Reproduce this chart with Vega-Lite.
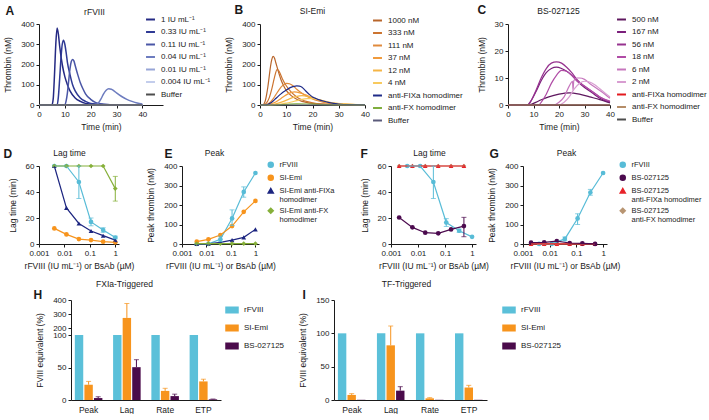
{
"$schema": "https://vega.github.io/schema/vega-lite/v6.json",
"background": "white",
"padding": {"left": 3, "top": 3, "right": 2, "bottom": 0},
"config": {
  "font": "Liberation Sans",
  "view": {"stroke": null},
  "axis": {"domainColor": "#1a1a1a", "tickColor": "#1a1a1a", "labelColor": "#1a1a1a", "titleColor": "#1a1a1a", "labelFontSize": 8, "titleFontSize": 8.5, "titleFontWeight": "normal", "tickSize": 3, "grid": false, "labelPadding": 2, "titlePadding": 6, "labelFlush": false, "labelOverlap": false},
  "legend": {"labelFontSize": 8, "labelColor": "#1a1a1a", "padding": 0, "rowPadding": 2.5, "labelOffset": 5},
  "concat": {"spacing": 14}
},
"datasets": {
"tgA": [
{"s":"1 IU mL⁻¹","t":0,"v":0},{"s":"1 IU mL⁻¹","t":5,"v":0},{"s":"1 IU mL⁻¹","t":5.5,"v":30},{"s":"1 IU mL⁻¹","t":6,"v":150},{"s":"1 IU mL⁻¹","t":6.5,"v":300},{"s":"1 IU mL⁻¹","t":7,"v":380},{"s":"1 IU mL⁻¹","t":7.5,"v":350},{"s":"1 IU mL⁻¹","t":8,"v":290},{"s":"1 IU mL⁻¹","t":9,"v":200},{"s":"1 IU mL⁻¹","t":10,"v":140},{"s":"1 IU mL⁻¹","t":11,"v":100},{"s":"1 IU mL⁻¹","t":12,"v":70},{"s":"1 IU mL⁻¹","t":14,"v":35},{"s":"1 IU mL⁻¹","t":16,"v":18},{"s":"1 IU mL⁻¹","t":18,"v":8},{"s":"1 IU mL⁻¹","t":20,"v":4},{"s":"1 IU mL⁻¹","t":25,"v":0},{"s":"1 IU mL⁻¹","t":40,"v":0},
{"s":"0.33 IU mL⁻¹","t":0,"v":0},{"s":"0.33 IU mL⁻¹","t":7,"v":0},{"s":"0.33 IU mL⁻¹","t":7.5,"v":40},{"s":"0.33 IU mL⁻¹","t":8,"v":130},{"s":"0.33 IU mL⁻¹","t":8.5,"v":230},{"s":"0.33 IU mL⁻¹","t":9,"v":300},{"s":"0.33 IU mL⁻¹","t":9.5,"v":320},{"s":"0.33 IU mL⁻¹","t":10,"v":300},{"s":"0.33 IU mL⁻¹","t":10.5,"v":260},{"s":"0.33 IU mL⁻¹","t":11,"v":210},{"s":"0.33 IU mL⁻¹","t":12,"v":150},{"s":"0.33 IU mL⁻¹","t":13,"v":100},{"s":"0.33 IU mL⁻¹","t":14,"v":70},{"s":"0.33 IU mL⁻¹","t":16,"v":35},{"s":"0.33 IU mL⁻¹","t":18,"v":18},{"s":"0.33 IU mL⁻¹","t":20,"v":8},{"s":"0.33 IU mL⁻¹","t":25,"v":2},{"s":"0.33 IU mL⁻¹","t":30,"v":0},{"s":"0.33 IU mL⁻¹","t":40,"v":0},
{"s":"0.11 IU mL⁻¹","t":0,"v":0},{"s":"0.11 IU mL⁻¹","t":10,"v":0},{"s":"0.11 IU mL⁻¹","t":10.5,"v":20},{"s":"0.11 IU mL⁻¹","t":11,"v":60},{"s":"0.11 IU mL⁻¹","t":11.5,"v":120},{"s":"0.11 IU mL⁻¹","t":12,"v":180},{"s":"0.11 IU mL⁻¹","t":12.5,"v":215},{"s":"0.11 IU mL⁻¹","t":13,"v":225},{"s":"0.11 IU mL⁻¹","t":13.5,"v":218},{"s":"0.11 IU mL⁻¹","t":14,"v":195},{"s":"0.11 IU mL⁻¹","t":15,"v":150},{"s":"0.11 IU mL⁻¹","t":16,"v":110},{"s":"0.11 IU mL⁻¹","t":17,"v":80},{"s":"0.11 IU mL⁻¹","t":18,"v":55},{"s":"0.11 IU mL⁻¹","t":20,"v":28},{"s":"0.11 IU mL⁻¹","t":22,"v":12},{"s":"0.11 IU mL⁻¹","t":25,"v":4},{"s":"0.11 IU mL⁻¹","t":30,"v":0},{"s":"0.11 IU mL⁻¹","t":40,"v":0},
{"s":"0.04 IU mL⁻¹","t":0,"v":0},{"s":"0.04 IU mL⁻¹","t":22,"v":0},{"s":"0.04 IU mL⁻¹","t":23,"v":10},{"s":"0.04 IU mL⁻¹","t":24,"v":30},{"s":"0.04 IU mL⁻¹","t":25,"v":55},{"s":"0.04 IU mL⁻¹","t":26,"v":73},{"s":"0.04 IU mL⁻¹","t":27,"v":80},{"s":"0.04 IU mL⁻¹","t":28,"v":78},{"s":"0.04 IU mL⁻¹","t":29,"v":70},{"s":"0.04 IU mL⁻¹","t":30,"v":60},{"s":"0.04 IU mL⁻¹","t":32,"v":42},{"s":"0.04 IU mL⁻¹","t":34,"v":28},{"s":"0.04 IU mL⁻¹","t":36,"v":18},{"s":"0.04 IU mL⁻¹","t":38,"v":10},{"s":"0.04 IU mL⁻¹","t":40,"v":5},
{"s":"0.01 IU mL⁻¹","t":0,"v":0},{"s":"0.01 IU mL⁻¹","t":40,"v":0},
{"s":"0.004 IU mL⁻¹","t":0,"v":0},{"s":"0.004 IU mL⁻¹","t":40,"v":0},
{"s":"Buffer","t":0,"v":0},{"s":"Buffer","t":40,"v":0}
],
"tgB": [
{"s":"1000 nM","t":0,"v":0},{"s":"1000 nM","t":1,"v":0},{"s":"1000 nM","t":1.5,"v":5},{"s":"1000 nM","t":2,"v":20},{"s":"1000 nM","t":2.5,"v":50},{"s":"1000 nM","t":3,"v":90},{"s":"1000 nM","t":3.5,"v":140},{"s":"1000 nM","t":4,"v":190},{"s":"1000 nM","t":4.5,"v":225},{"s":"1000 nM","t":5,"v":240},{"s":"1000 nM","t":5.5,"v":232},{"s":"1000 nM","t":6,"v":210},{"s":"1000 nM","t":7,"v":165},{"s":"1000 nM","t":8,"v":125},{"s":"1000 nM","t":9,"v":95},{"s":"1000 nM","t":10,"v":72},{"s":"1000 nM","t":12,"v":45},{"s":"1000 nM","t":14,"v":28},{"s":"1000 nM","t":16,"v":18},{"s":"1000 nM","t":18,"v":12},{"s":"1000 nM","t":20,"v":8},{"s":"1000 nM","t":24,"v":4},{"s":"1000 nM","t":28,"v":2},{"s":"1000 nM","t":32,"v":1},{"s":"1000 nM","t":40,"v":0},
{"s":"333 nM","t":0,"v":0},{"s":"333 nM","t":1.5,"v":0},{"s":"333 nM","t":2.5,"v":10},{"s":"333 nM","t":3.5,"v":35},{"s":"333 nM","t":4.5,"v":80},{"s":"333 nM","t":5.5,"v":135},{"s":"333 nM","t":6.5,"v":175},{"s":"333 nM","t":7,"v":172},{"s":"333 nM","t":7.5,"v":160},{"s":"333 nM","t":8.5,"v":130},{"s":"333 nM","t":10,"v":95},{"s":"333 nM","t":12,"v":62},{"s":"333 nM","t":14,"v":40},{"s":"333 nM","t":16,"v":26},{"s":"333 nM","t":18,"v":17},{"s":"333 nM","t":20,"v":11},{"s":"333 nM","t":24,"v":5},{"s":"333 nM","t":28,"v":3},{"s":"333 nM","t":32,"v":1},{"s":"333 nM","t":40,"v":0},
{"s":"111 nM","t":0,"v":0},{"s":"111 nM","t":2,"v":0},{"s":"111 nM","t":3,"v":5},{"s":"111 nM","t":4,"v":15},{"s":"111 nM","t":5,"v":30},{"s":"111 nM","t":6,"v":50},{"s":"111 nM","t":7,"v":70},{"s":"111 nM","t":8,"v":88},{"s":"111 nM","t":9,"v":100},{"s":"111 nM","t":10,"v":107},{"s":"111 nM","t":11,"v":106},{"s":"111 nM","t":12,"v":100},{"s":"111 nM","t":13,"v":90},{"s":"111 nM","t":14,"v":78},{"s":"111 nM","t":16,"v":58},{"s":"111 nM","t":18,"v":42},{"s":"111 nM","t":20,"v":30},{"s":"111 nM","t":22,"v":21},{"s":"111 nM","t":24,"v":14},{"s":"111 nM","t":26,"v":9},{"s":"111 nM","t":28,"v":6},{"s":"111 nM","t":32,"v":3},{"s":"111 nM","t":36,"v":1},{"s":"111 nM","t":40,"v":0},
{"s":"37 nM","t":0,"v":0},{"s":"37 nM","t":2,"v":0},{"s":"37 nM","t":4,"v":5},{"s":"37 nM","t":6,"v":15},{"s":"37 nM","t":8,"v":32},{"s":"37 nM","t":10,"v":50},{"s":"37 nM","t":12,"v":62},{"s":"37 nM","t":13,"v":65},{"s":"37 nM","t":14,"v":64},{"s":"37 nM","t":16,"v":57},{"s":"37 nM","t":18,"v":47},{"s":"37 nM","t":20,"v":36},{"s":"37 nM","t":22,"v":26},{"s":"37 nM","t":24,"v":18},{"s":"37 nM","t":26,"v":12},{"s":"37 nM","t":28,"v":8},{"s":"37 nM","t":32,"v":4},{"s":"37 nM","t":36,"v":2},{"s":"37 nM","t":40,"v":1},
{"s":"12 nM","t":0,"v":0},{"s":"12 nM","t":3,"v":0},{"s":"12 nM","t":5,"v":3},{"s":"12 nM","t":7,"v":9},{"s":"12 nM","t":9,"v":18},{"s":"12 nM","t":11,"v":29},{"s":"12 nM","t":13,"v":39},{"s":"12 nM","t":15,"v":45},{"s":"12 nM","t":16,"v":46},{"s":"12 nM","t":17,"v":45},{"s":"12 nM","t":19,"v":40},{"s":"12 nM","t":21,"v":32},{"s":"12 nM","t":23,"v":24},{"s":"12 nM","t":25,"v":17},{"s":"12 nM","t":27,"v":12},{"s":"12 nM","t":30,"v":7},{"s":"12 nM","t":34,"v":3},{"s":"12 nM","t":40,"v":1},
{"s":"4 nM","t":0,"v":0},{"s":"4 nM","t":4,"v":0},{"s":"4 nM","t":6,"v":2},{"s":"4 nM","t":8,"v":5},{"s":"4 nM","t":10,"v":9},{"s":"4 nM","t":12,"v":15},{"s":"4 nM","t":14,"v":22},{"s":"4 nM","t":16,"v":28},{"s":"4 nM","t":18,"v":31},{"s":"4 nM","t":19,"v":31.5},{"s":"4 nM","t":20,"v":31},{"s":"4 nM","t":22,"v":27},{"s":"4 nM","t":24,"v":21},{"s":"4 nM","t":26,"v":15},{"s":"4 nM","t":28,"v":10},{"s":"4 nM","t":31,"v":6},{"s":"4 nM","t":35,"v":3},{"s":"4 nM","t":40,"v":1},
{"s":"anti-FIXa homodimer","t":0,"v":0},{"s":"anti-FIXa homodimer","t":2,"v":0},{"s":"anti-FIXa homodimer","t":3,"v":3},{"s":"anti-FIXa homodimer","t":4,"v":10},{"s":"anti-FIXa homodimer","t":5,"v":20},{"s":"anti-FIXa homodimer","t":6,"v":32},{"s":"anti-FIXa homodimer","t":7,"v":44},{"s":"anti-FIXa homodimer","t":8,"v":55},{"s":"anti-FIXa homodimer","t":9,"v":65},{"s":"anti-FIXa homodimer","t":10,"v":74},{"s":"anti-FIXa homodimer","t":11,"v":82},{"s":"anti-FIXa homodimer","t":12,"v":88},{"s":"anti-FIXa homodimer","t":13,"v":92},{"s":"anti-FIXa homodimer","t":14,"v":94},{"s":"anti-FIXa homodimer","t":15,"v":93},{"s":"anti-FIXa homodimer","t":16,"v":88},{"s":"anti-FIXa homodimer","t":17,"v":75},{"s":"anti-FIXa homodimer","t":18,"v":62},{"s":"anti-FIXa homodimer","t":19,"v":50},{"s":"anti-FIXa homodimer","t":20,"v":40},{"s":"anti-FIXa homodimer","t":21,"v":34},{"s":"anti-FIXa homodimer","t":22,"v":28},{"s":"anti-FIXa homodimer","t":24,"v":20},{"s":"anti-FIXa homodimer","t":26,"v":13},{"s":"anti-FIXa homodimer","t":28,"v":8},{"s":"anti-FIXa homodimer","t":30,"v":5},{"s":"anti-FIXa homodimer","t":34,"v":2},{"s":"anti-FIXa homodimer","t":40,"v":1},
{"s":"anti-FX homodimer","t":0,"v":0},{"s":"anti-FX homodimer","t":6,"v":0},{"s":"anti-FX homodimer","t":10,"v":3},{"s":"anti-FX homodimer","t":14,"v":6},{"s":"anti-FX homodimer","t":18,"v":5},{"s":"anti-FX homodimer","t":22,"v":3},{"s":"anti-FX homodimer","t":28,"v":1},{"s":"anti-FX homodimer","t":40,"v":0},
{"s":"Buffer","t":0,"v":0},{"s":"Buffer","t":40,"v":0}
],
"tgC": [
{"s":"500 nM","t":0,"v":0},{"s":"500 nM","t":8,"v":0},{"s":"500 nM","t":12,"v":1.5},{"s":"500 nM","t":16,"v":3},{"s":"500 nM","t":20,"v":4},{"s":"500 nM","t":24,"v":4.5},{"s":"500 nM","t":28,"v":4},{"s":"500 nM","t":32,"v":3},{"s":"500 nM","t":36,"v":2},{"s":"500 nM","t":40,"v":0.8},
{"s":"167 nM","t":0,"v":0},{"s":"167 nM","t":7.5,"v":0},{"s":"167 nM","t":9,"v":1.5},{"s":"167 nM","t":11,"v":5},{"s":"167 nM","t":13,"v":9},{"s":"167 nM","t":15,"v":12},{"s":"167 nM","t":17,"v":13.5},{"s":"167 nM","t":19,"v":14},{"s":"167 nM","t":21,"v":13.5},{"s":"167 nM","t":23,"v":12.5},{"s":"167 nM","t":25,"v":11},{"s":"167 nM","t":27,"v":9},{"s":"167 nM","t":30,"v":6.5},{"s":"167 nM","t":33,"v":4.5},{"s":"167 nM","t":36,"v":2.5},{"s":"167 nM","t":40,"v":1},
{"s":"56 nM","t":0,"v":0},{"s":"56 nM","t":8,"v":0},{"s":"56 nM","t":9,"v":1.5},{"s":"56 nM","t":11,"v":5.5},{"s":"56 nM","t":13,"v":10},{"s":"56 nM","t":15,"v":13.5},{"s":"56 nM","t":17,"v":15.5},{"s":"56 nM","t":19,"v":16},{"s":"56 nM","t":21,"v":15.5},{"s":"56 nM","t":23,"v":14},{"s":"56 nM","t":25,"v":12},{"s":"56 nM","t":27,"v":9.5},{"s":"56 nM","t":30,"v":7},{"s":"56 nM","t":33,"v":5},{"s":"56 nM","t":36,"v":3},{"s":"56 nM","t":40,"v":1.2},
{"s":"18 nM","t":0,"v":0},{"s":"18 nM","t":12,"v":0},{"s":"18 nM","t":13,"v":1},{"s":"18 nM","t":15,"v":4},{"s":"18 nM","t":17,"v":8},{"s":"18 nM","t":19,"v":11},{"s":"18 nM","t":21,"v":12.8},{"s":"18 nM","t":23,"v":12.5},{"s":"18 nM","t":25,"v":11},{"s":"18 nM","t":27,"v":9},{"s":"18 nM","t":30,"v":7},{"s":"18 nM","t":33,"v":5},{"s":"18 nM","t":36,"v":3},{"s":"18 nM","t":40,"v":1.5},
{"s":"6 nM","t":0,"v":0},{"s":"6 nM","t":18,"v":0},{"s":"6 nM","t":20,"v":1},{"s":"6 nM","t":22,"v":3},{"s":"6 nM","t":24,"v":7},{"s":"6 nM","t":25.3,"v":8.8},{"s":"6 nM","t":25.5,"v":5.5},{"s":"6 nM","t":25.8,"v":9},{"s":"6 nM","t":27,"v":10},{"s":"6 nM","t":28,"v":10},{"s":"6 nM","t":30,"v":9.5},{"s":"6 nM","t":32,"v":8},{"s":"6 nM","t":35,"v":6},{"s":"6 nM","t":38,"v":4},{"s":"6 nM","t":40,"v":2.5},
{"s":"2 nM","t":0,"v":0},{"s":"2 nM","t":20,"v":0},{"s":"2 nM","t":22,"v":1},{"s":"2 nM","t":24,"v":3},{"s":"2 nM","t":26,"v":6},{"s":"2 nM","t":28,"v":8},{"s":"2 nM","t":30,"v":8.8},{"s":"2 nM","t":32,"v":8.5},{"s":"2 nM","t":34,"v":7.5},{"s":"2 nM","t":36,"v":6},{"s":"2 nM","t":38,"v":4.5},{"s":"2 nM","t":40,"v":3},
{"s":"anti-FIXa homodimer","t":0,"v":0},{"s":"anti-FIXa homodimer","t":40,"v":0},
{"s":"anti-FX homodimer","t":0,"v":0},{"s":"anti-FX homodimer","t":40,"v":0},
{"s":"Buffer","t":0,"v":0},{"s":"Buffer","t":40,"v":0}
],
"dose": [
{"p":"D","s":"rFVIII","c":0.004,"v":60},{"p":"D","s":"rFVIII","c":0.012,"v":60},{"p":"D","s":"rFVIII","c":0.037,"v":47.7,"lo":35,"hi":60},{"p":"D","s":"rFVIII","c":0.111,"v":17,"lo":14,"hi":20},{"p":"D","s":"rFVIII","c":0.333,"v":10.7,"lo":9,"hi":12.5},{"p":"D","s":"rFVIII","c":1,"v":5,"lo":4,"hi":6},
{"p":"D","s":"SI-Emi","c":0.004,"v":12},{"p":"D","s":"SI-Emi","c":0.012,"v":7.4},{"p":"D","s":"SI-Emi","c":0.037,"v":3.8},{"p":"D","s":"SI-Emi","c":0.111,"v":3},{"p":"D","s":"SI-Emi","c":0.333,"v":1.8},{"p":"D","s":"SI-Emi","c":1,"v":1.3},
{"p":"D","s":"SI-Emi anti-FIXa homodimer","c":0.004,"v":60},{"p":"D","s":"SI-Emi anti-FIXa homodimer","c":0.012,"v":27.8},{"p":"D","s":"SI-Emi anti-FIXa homodimer","c":0.037,"v":15.8},{"p":"D","s":"SI-Emi anti-FIXa homodimer","c":0.111,"v":10},{"p":"D","s":"SI-Emi anti-FIXa homodimer","c":0.333,"v":6.4},{"p":"D","s":"SI-Emi anti-FIXa homodimer","c":1,"v":3},
{"p":"D","s":"SI-Emi anti-FX homodimer","c":0.004,"v":60},{"p":"D","s":"SI-Emi anti-FX homodimer","c":0.012,"v":60},{"p":"D","s":"SI-Emi anti-FX homodimer","c":0.037,"v":60},{"p":"D","s":"SI-Emi anti-FX homodimer","c":0.111,"v":60},{"p":"D","s":"SI-Emi anti-FX homodimer","c":0.333,"v":60},{"p":"D","s":"SI-Emi anti-FX homodimer","c":1,"v":42.6,"lo":33,"hi":52},
{"p":"E","s":"rFVIII","c":0.004,"v":0.5},{"p":"E","s":"rFVIII","c":0.012,"v":1},{"p":"E","s":"rFVIII","c":0.037,"v":24,"lo":12,"hi":40},{"p":"E","s":"rFVIII","c":0.111,"v":131,"lo":95,"hi":175},{"p":"E","s":"rFVIII","c":0.333,"v":267,"lo":240,"hi":293},{"p":"E","s":"rFVIII","c":1,"v":364},
{"p":"E","s":"SI-Emi","c":0.004,"v":12},{"p":"E","s":"SI-Emi","c":0.012,"v":24},{"p":"E","s":"SI-Emi","c":0.037,"v":46},{"p":"E","s":"SI-Emi","c":0.111,"v":92},{"p":"E","s":"SI-Emi","c":0.333,"v":165},{"p":"E","s":"SI-Emi","c":1,"v":221},
{"p":"E","s":"SI-Emi anti-FIXa homodimer","c":0.004,"v":0},{"p":"E","s":"SI-Emi anti-FIXa homodimer","c":0.012,"v":1},{"p":"E","s":"SI-Emi anti-FIXa homodimer","c":0.037,"v":8},{"p":"E","s":"SI-Emi anti-FIXa homodimer","c":0.111,"v":20},{"p":"E","s":"SI-Emi anti-FIXa homodimer","c":0.333,"v":34},{"p":"E","s":"SI-Emi anti-FIXa homodimer","c":1,"v":75},
{"p":"E","s":"SI-Emi anti-FX homodimer","c":0.004,"v":2},{"p":"E","s":"SI-Emi anti-FX homodimer","c":0.012,"v":2},{"p":"E","s":"SI-Emi anti-FX homodimer","c":0.037,"v":2},{"p":"E","s":"SI-Emi anti-FX homodimer","c":0.111,"v":2},{"p":"E","s":"SI-Emi anti-FX homodimer","c":0.333,"v":2},{"p":"E","s":"SI-Emi anti-FX homodimer","c":1,"v":2},
{"p":"F","s":"BS-027125 anti-FX homodimer","c":0.002,"v":60},{"p":"F","s":"BS-027125 anti-FX homodimer","c":0.0062,"v":60},{"p":"F","s":"BS-027125 anti-FX homodimer","c":0.0185,"v":60},{"p":"F","s":"BS-027125 anti-FX homodimer","c":0.056,"v":60},{"p":"F","s":"BS-027125 anti-FX homodimer","c":0.167,"v":60},{"p":"F","s":"BS-027125 anti-FX homodimer","c":0.5,"v":60},
{"p":"F","s":"BS-027125 anti-FIXa homodimer","c":0.002,"v":60},{"p":"F","s":"BS-027125 anti-FIXa homodimer","c":0.0062,"v":60},{"p":"F","s":"BS-027125 anti-FIXa homodimer","c":0.0185,"v":60},{"p":"F","s":"BS-027125 anti-FIXa homodimer","c":0.056,"v":60},{"p":"F","s":"BS-027125 anti-FIXa homodimer","c":0.167,"v":60},{"p":"F","s":"BS-027125 anti-FIXa homodimer","c":0.5,"v":60},
{"p":"F","s":"rFVIII","c":0.004,"v":60},{"p":"F","s":"rFVIII","c":0.012,"v":60},{"p":"F","s":"rFVIII","c":0.037,"v":47.7,"lo":35,"hi":60},{"p":"F","s":"rFVIII","c":0.111,"v":16.5,"lo":13.5,"hi":19.5},{"p":"F","s":"rFVIII","c":0.333,"v":10.2,"lo":9,"hi":11.5},{"p":"F","s":"rFVIII","c":1,"v":5.5},
{"p":"F","s":"BS-027125","c":0.002,"v":20.4},{"p":"F","s":"BS-027125","c":0.0062,"v":12.8},{"p":"F","s":"BS-027125","c":0.0185,"v":8.7},{"p":"F","s":"BS-027125","c":0.056,"v":8.2},{"p":"F","s":"BS-027125","c":0.167,"v":11.2},{"p":"F","s":"BS-027125","c":0.5,"v":13.8,"lo":5.6,"hi":20.5},
{"p":"G","s":"rFVIII","c":0.004,"v":0.5},{"p":"G","s":"rFVIII","c":0.012,"v":0.5},{"p":"G","s":"rFVIII","c":0.037,"v":26,"lo":16,"hi":36},{"p":"G","s":"rFVIII","c":0.111,"v":131,"lo":100,"hi":155},{"p":"G","s":"rFVIII","c":0.333,"v":264,"lo":250,"hi":280},{"p":"G","s":"rFVIII","c":1,"v":364},
{"p":"G","s":"BS-027125 anti-FX homodimer","c":0.002,"v":1},{"p":"G","s":"BS-027125 anti-FX homodimer","c":0.0062,"v":1},{"p":"G","s":"BS-027125 anti-FX homodimer","c":0.0185,"v":1},{"p":"G","s":"BS-027125 anti-FX homodimer","c":0.056,"v":1},{"p":"G","s":"BS-027125 anti-FX homodimer","c":0.167,"v":1},{"p":"G","s":"BS-027125 anti-FX homodimer","c":0.5,"v":1},
{"p":"G","s":"BS-027125 anti-FIXa homodimer","c":0.002,"v":0.5},{"p":"G","s":"BS-027125 anti-FIXa homodimer","c":0.0062,"v":0.5},{"p":"G","s":"BS-027125 anti-FIXa homodimer","c":0.0185,"v":0.5},{"p":"G","s":"BS-027125 anti-FIXa homodimer","c":0.056,"v":0.5},{"p":"G","s":"BS-027125 anti-FIXa homodimer","c":0.167,"v":0.5},{"p":"G","s":"BS-027125 anti-FIXa homodimer","c":0.5,"v":0.5},
{"p":"G","s":"BS-027125","c":0.002,"v":6.8},{"p":"G","s":"BS-027125","c":0.0062,"v":8.5},{"p":"G","s":"BS-027125","c":0.0185,"v":15},{"p":"G","s":"BS-027125","c":0.056,"v":5},{"p":"G","s":"BS-027125","c":0.167,"v":3.4},{"p":"G","s":"BS-027125","c":0.5,"v":0.5}
],
"barsH": [
{"m":"Peak","g":"rFVIII","v":100},{"m":"Peak","g":"SI-Emi","v":23.5,"hi":28.6},{"m":"Peak","g":"BS-027125","v":3,"hi":5},
{"m":"Lag","g":"rFVIII","v":100},{"m":"Lag","g":"SI-Emi","v":272,"hi":375},{"m":"Lag","g":"BS-027125","v":50.5,"hi":62},
{"m":"Rate","g":"rFVIII","v":100},{"m":"Rate","g":"SI-Emi","v":14,"hi":18},{"m":"Rate","g":"BS-027125","v":6,"hi":9},
{"m":"ETP","g":"rFVIII","v":100},{"m":"ETP","g":"SI-Emi","v":28.6,"hi":32},{"m":"ETP","g":"BS-027125","v":1,"hi":1.5}
],
"barsI": [
{"m":"Peak","g":"rFVIII","v":100},{"m":"Peak","g":"SI-Emi","v":7.6,"hi":9.5},{"m":"Peak","g":"BS-027125","v":0.3},
{"m":"Lag","g":"rFVIII","v":100},{"m":"Lag","g":"SI-Emi","v":82,"hi":111},{"m":"Lag","g":"BS-027125","v":14,"hi":20},
{"m":"Rate","g":"rFVIII","v":100},{"m":"Rate","g":"SI-Emi","v":2.5,"hi":3.5},{"m":"Rate","g":"BS-027125","v":0.3},
{"m":"ETP","g":"rFVIII","v":100},{"m":"ETP","g":"SI-Emi","v":18.7,"hi":22},{"m":"ETP","g":"BS-027125","v":0.3}
]
},
"vconcat": [
{
"hconcat": [
{
 "width": 124, "height": 81,
 "layer": [
  {"data": {"name": "tgA"},
   "mark": {"type": "line", "strokeWidth": 1.5, "interpolate": "monotone"},
   "encoding": {
     "x": {"field": "t", "type": "quantitative", "scale": {"domain": [0, 48], "nice": false}, "axis": {"values": [0,10,20,30,40], "title": "Time (min)", "titlePadding": 4}},
     "y": {"field": "v", "type": "quantitative", "scale": {"domain": [0, 400], "nice": false}, "axis": {"values": [0,100,200,300,400], "title": "Thrombin (nM)", "titlePadding": 8}},
     "color": {"field": "s", "type": "nominal", "scale": {"domain": ["1 IU mL⁻¹","0.33 IU mL⁻¹","0.11 IU mL⁻¹","0.04 IU mL⁻¹","0.01 IU mL⁻¹","0.004 IU mL⁻¹","Buffer"], "range": ["#252a84","#2f3a95","#4a56a6","#6d7cbf","#97a5d6","#c3cdec","#4d4d4d"]}, "legend": {"orient": "none", "legendX": 106, "legendY": -10, "title": null, "symbolType": "stroke", "symbolStrokeWidth": 2, "symbolSize": 80}}
   }},
  {"data": {"values": [{"t": 0, "v": 0}]}, "mark": {"type": "point", "opacity": 0},
   "encoding": {"y": {"field": "v", "type": "quantitative", "axis": null}, "x": {"field": "t", "type": "quantitative", "axis": {"orient": "top", "domain": false, "ticks": false, "labels": false, "title": "rFVIII", "titleX": 55, "titleY": -10, "titleAlign": "center", "titleBaseline": "alphabetic"}}}},
  {"data": {"values": [{"t": 0, "v": 0}]}, "mark": {"type": "point", "opacity": 0},
   "encoding": {"y": {"field": "v", "type": "quantitative", "axis": null}, "x": {"field": "t", "type": "quantitative", "axis": {"orient": "top", "domain": false, "ticks": false, "labels": false, "title": "A", "titleX": -34, "titleY": -10, "titleAlign": "left", "titleBaseline": "alphabetic", "titleFontSize": 12, "titleFontWeight": "bold"}}}}
 ],
 "resolve": {"axis": {"x": "independent", "y": "independent"}}
},
{
"hconcat": [
{
 "width": 105, "height": 81,
 "layer": [
  {"data": {"name": "tgB"},
   "mark": {"type": "line", "strokeWidth": 1.2, "interpolate": "monotone"},
   "encoding": {
     "x": {"field": "t", "type": "quantitative", "scale": {"domain": [0, 40], "nice": false}, "axis": {"values": [0,10,20,30,40], "title": "Time (min)", "titlePadding": 4}},
     "y": {"field": "v", "type": "quantitative", "scale": {"domain": [0, 400], "nice": false}, "axis": {"values": [0,100,200,300,400], "title": "Thrombin (nM)", "titlePadding": 8}},
     "color": {"field": "s", "type": "nominal", "scale": {"domain": ["1000 nM","333 nM","111 nM","37 nM","12 nM","4 nM","anti-FIXa homodimer","anti-FX homodimer","Buffer"], "range": ["#b8652a","#cc7430","#e08a3c","#f09a3c","#f5b545","#f8ca5e","#1f2b88","#7fae3e","#5a5a7a"]}, "legend": {"orient": "none", "legendX": 112, "legendY": -9, "title": null, "symbolType": "stroke", "symbolStrokeWidth": 2, "symbolSize": 80}}
   }},
  {"data": {"values": [{"t": 0, "v": 0}]}, "mark": {"type": "point", "opacity": 0},
   "encoding": {"y": {"field": "v", "type": "quantitative", "axis": null}, "x": {"field": "t", "type": "quantitative", "axis": {"orient": "top", "domain": false, "ticks": false, "labels": false, "title": "SI-Emi", "titleX": 52, "titleY": -11, "titleAlign": "center", "titleBaseline": "alphabetic"}}}},
  {"data": {"values": [{"t": 0, "v": 0}]}, "mark": {"type": "point", "opacity": 0},
   "encoding": {"y": {"field": "v", "type": "quantitative", "axis": null}, "x": {"field": "t", "type": "quantitative", "axis": {"orient": "top", "domain": false, "ticks": false, "labels": false, "title": "B", "titleX": -26, "titleY": -11, "titleAlign": "left", "titleBaseline": "alphabetic", "titleFontSize": 12, "titleFontWeight": "bold"}}}}
 ],
 "resolve": {"axis": {"x": "independent", "y": "independent"}}
},
{
 "width": 102, "height": 81,
 "layer": [
  {"data": {"name": "tgC"},
   "mark": {"type": "line", "strokeWidth": 1.2, "interpolate": "monotone"},
   "encoding": {
     "x": {"field": "t", "type": "quantitative", "scale": {"domain": [0, 40], "nice": false}, "axis": {"values": [0,10,20,30,40], "title": "Time (min)", "titlePadding": 4}},
     "y": {"field": "v", "type": "quantitative", "scale": {"domain": [0, 30], "nice": false}, "axis": {"values": [0,10,20,30], "title": "Thrombin (nM)", "titlePadding": 8}},
     "color": {"field": "s", "type": "nominal", "scale": {"domain": ["500 nM","167 nM","56 nM","18 nM","6 nM","2 nM","anti-FIXa homodimer","anti-FX homodimer","Buffer"], "range": ["#5e175e","#7b1f7b","#96328f","#b04ca6","#c676bd","#d89dd1","#e3191e","#b58d68","#4d4d4d"]}, "legend": {"orient": "none", "legendX": 108, "legendY": -10, "title": null, "symbolType": "stroke", "symbolStrokeWidth": 2, "symbolSize": 80}}
   }},
  {"data": {"values": [{"t": 0, "v": 0}]}, "mark": {"type": "point", "opacity": 0},
   "encoding": {"y": {"field": "v", "type": "quantitative", "axis": null}, "x": {"field": "t", "type": "quantitative", "axis": {"orient": "top", "domain": false, "ticks": false, "labels": false, "title": "BS-027125", "titleX": 50, "titleY": -11, "titleAlign": "center", "titleBaseline": "alphabetic"}}}},
  {"data": {"values": [{"t": 0, "v": 0}]}, "mark": {"type": "point", "opacity": 0},
   "encoding": {"y": {"field": "v", "type": "quantitative", "axis": null}, "x": {"field": "t", "type": "quantitative", "axis": {"orient": "top", "domain": false, "ticks": false, "labels": false, "title": "C", "titleX": -31, "titleY": -11, "titleAlign": "left", "titleBaseline": "alphabetic", "titleFontSize": 12, "titleFontWeight": "bold"}}}}
 ],
 "resolve": {"axis": {"x": "independent", "y": "independent"}}
}
],
"spacing": 14,
"resolve": {"scale": {"color": "independent", "shape": "independent", "stroke": "independent", "fill": "independent", "x": "independent", "y": "independent"}, "legend": {"color": "independent", "shape": "independent"}}
}
],
"spacing": 13,
"resolve": {"scale": {"color": "independent", "shape": "independent", "stroke": "independent", "fill": "independent", "x": "independent", "y": "independent"}, "legend": {"color": "independent", "shape": "independent"}}
},
{
"vconcat": [
{
"hconcat": [
{
"hconcat": [
{
 "width": 80, "height": 78,
 "layer": [
  {"data": {"name": "dose"}, "transform": [{"filter": "datum.p == 'D'"}],
   "encoding": {
     "x": {"field": "c", "type": "quantitative", "scale": {"type": "log", "domain": [0.001, 1.4], "nice": false}, "axis": {"values": [0.001, 0.01, 0.1, 1], "format": "~g", "title": "rFVIII (IU mL⁻¹) or BsAb (µM)", "titlePadding": 4}},
     "y": {"field": "v", "type": "quantitative", "scale": {"domain": [0, 60], "nice": false}, "axis": {"values": [0,20,40,60], "title": "Lag time (min)", "titlePadding": 8}}
   },
   "layer": [
    {"mark": {"type": "point", "filled": true, "size": 22, "opacity": 1},
     "encoding": {"color": {"field": "s", "type": "nominal", "scale": {"domain": ["rFVIII","SI-Emi","SI-Emi anti-FIXa homodimer","SI-Emi anti-FX homodimer"], "range": ["#58bcd7","#f7941d","#1c2580","#86b03a"]}, "legend": null}, "shape": {"field": "s", "type": "nominal", "scale": {"domain": ["rFVIII","SI-Emi","SI-Emi anti-FIXa homodimer","SI-Emi anti-FX homodimer"], "range": ["circle","circle","triangle-up","diamond"]}, "legend": null}}},
    {"mark": {"type": "line", "strokeWidth": 1.2},
     "encoding": {"stroke": {"field": "s", "type": "nominal", "scale": {"domain": ["rFVIII","SI-Emi","SI-Emi anti-FIXa homodimer","SI-Emi anti-FX homodimer"], "range": ["#58bcd7","#f7941d","#1c2580","#86b03a"]}, "legend": null}}},
    {"transform": [{"filter": "isValid(datum.lo)"}], "mark": {"type": "rule", "strokeWidth": 1},
     "encoding": {"y": {"field": "lo", "type": "quantitative"}, "y2": {"field": "hi"}, "stroke": {"field": "s", "type": "nominal", "legend": null}}},
    {"transform": [{"filter": "isValid(datum.lo)"}], "mark": {"type": "tick", "orient": "horizontal", "size": 5, "thickness": 1},
     "encoding": {"y": {"field": "lo", "type": "quantitative"}, "fill": {"field": "s", "type": "nominal", "scale": {"domain": ["rFVIII","SI-Emi","SI-Emi anti-FIXa homodimer","SI-Emi anti-FX homodimer"], "range": ["#58bcd7","#f7941d","#1c2580","#86b03a"]}, "legend": null}}},
    {"transform": [{"filter": "isValid(datum.lo)"}], "mark": {"type": "tick", "orient": "horizontal", "size": 5, "thickness": 1},
     "encoding": {"y": {"field": "hi", "type": "quantitative"}, "fill": {"field": "s", "type": "nominal", "legend": null}}}
   ]},
  {"data": {"values": [{"t": 0.01, "v": 0}]}, "mark": {"type": "point", "opacity": 0},
   "encoding": {"y": {"field": "v", "type": "quantitative", "axis": null}, "x": {"field": "t", "type": "quantitative", "axis": {"orient": "top", "domain": false, "ticks": false, "labels": false, "title": "Lag time", "titleX": 30, "titleY": -11, "titleAlign": "center", "titleBaseline": "alphabetic"}}}},
  {"data": {"values": [{"t": 0.01, "v": 0}]}, "mark": {"type": "point", "opacity": 0},
   "encoding": {"y": {"field": "v", "type": "quantitative", "axis": null}, "x": {"field": "t", "type": "quantitative", "axis": {"orient": "top", "domain": false, "ticks": false, "labels": false, "title": "D", "titleX": -36, "titleY": -9, "titleAlign": "left", "titleBaseline": "alphabetic", "titleFontSize": 12, "titleFontWeight": "bold"}}}}
 ],
 "resolve": {"axis": {"x": "independent", "y": "independent"}}
},
{
 "width": 77, "height": 78,
 "layer": [
  {"data": {"name": "dose"}, "transform": [{"filter": "datum.p == 'E'"}],
   "encoding": {
     "x": {"field": "c", "type": "quantitative", "scale": {"type": "log", "domain": [0.001, 1.4], "nice": false}, "axis": {"values": [0.001, 0.01, 0.1, 1], "format": "~g", "title": "rFVIII (IU mL⁻¹) or BsAb (µM)", "titlePadding": 4}},
     "y": {"field": "v", "type": "quantitative", "scale": {"domain": [0, 400], "nice": false}, "axis": {"values": [0,100,200,300,400], "title": "Peak thrombin (nM)", "titlePadding": 8}}
   },
   "layer": [
    {"mark": {"type": "point", "filled": true, "size": 22, "opacity": 1},
     "encoding": {
       "color": {"field": "s", "type": "nominal", "scale": {"domain": ["rFVIII","SI-Emi","SI-Emi anti-FIXa homodimer","SI-Emi anti-FX homodimer"], "range": ["#58bcd7","#f7941d","#1c2580","#86b03a"]}, "legend": {"orient": "none", "legendX": 85, "legendY": -5, "title": null, "labelFontSize": 7.5, "symbolSize": 25, "rowPadding": 1, "labelExpr": "indexof(datum.label, ' homodimer') > 0 ? [replace(datum.label, ' homodimer', ''), 'homodimer'] : datum.label"}},
       "shape": {"field": "s", "type": "nominal", "scale": {"domain": ["rFVIII","SI-Emi","SI-Emi anti-FIXa homodimer","SI-Emi anti-FX homodimer"], "range": ["circle","circle","triangle-up","diamond"]}, "legend": {"orient": "none", "legendX": 85, "legendY": -5, "title": null, "labelFontSize": 7.5, "symbolSize": 25, "rowPadding": 1, "labelExpr": "indexof(datum.label, ' homodimer') > 0 ? [replace(datum.label, ' homodimer', ''), 'homodimer'] : datum.label"}}}},
    {"mark": {"type": "line", "strokeWidth": 1.2},
     "encoding": {"stroke": {"field": "s", "type": "nominal", "scale": {"domain": ["rFVIII","SI-Emi","SI-Emi anti-FIXa homodimer","SI-Emi anti-FX homodimer"], "range": ["#58bcd7","#f7941d","#1c2580","#86b03a"]}, "legend": null}}},
    {"transform": [{"filter": "isValid(datum.lo)"}], "mark": {"type": "rule", "strokeWidth": 1},
     "encoding": {"y": {"field": "lo", "type": "quantitative"}, "y2": {"field": "hi"}, "stroke": {"field": "s", "type": "nominal", "legend": null}}},
    {"transform": [{"filter": "isValid(datum.lo)"}], "mark": {"type": "tick", "orient": "horizontal", "size": 5, "thickness": 1},
     "encoding": {"y": {"field": "lo", "type": "quantitative"}, "fill": {"field": "s", "type": "nominal", "scale": {"domain": ["rFVIII","SI-Emi","SI-Emi anti-FIXa homodimer","SI-Emi anti-FX homodimer"], "range": ["#58bcd7","#f7941d","#1c2580","#86b03a"]}, "legend": null}}},
    {"transform": [{"filter": "isValid(datum.lo)"}], "mark": {"type": "tick", "orient": "horizontal", "size": 5, "thickness": 1},
     "encoding": {"y": {"field": "hi", "type": "quantitative"}, "fill": {"field": "s", "type": "nominal", "legend": null}}}
   ]},
  {"data": {"values": [{"t": 0.01, "v": 0}]}, "mark": {"type": "point", "opacity": 0},
   "encoding": {"y": {"field": "v", "type": "quantitative", "axis": null}, "x": {"field": "t", "type": "quantitative", "axis": {"orient": "top", "domain": false, "ticks": false, "labels": false, "title": "Peak", "titleX": 32, "titleY": -11, "titleAlign": "center", "titleBaseline": "alphabetic"}}}},
  {"data": {"values": [{"t": 0.01, "v": 0}]}, "mark": {"type": "point", "opacity": 0},
   "encoding": {"y": {"field": "v", "type": "quantitative", "axis": null}, "x": {"field": "t", "type": "quantitative", "axis": {"orient": "top", "domain": false, "ticks": false, "labels": false, "title": "E", "titleX": -18, "titleY": -9, "titleAlign": "left", "titleBaseline": "alphabetic", "titleFontSize": 12, "titleFontWeight": "bold"}}}}
 ],
 "resolve": {"axis": {"x": "independent", "y": "independent"}}
}
],
"spacing": 12,
"resolve": {"scale": {"color": "independent", "shape": "independent", "stroke": "independent", "fill": "independent", "x": "independent", "y": "independent"}, "legend": {"color": "independent", "shape": "independent"}}
},
{
"hconcat": [
{
 "width": 85, "height": 78,
 "layer": [
  {"data": {"name": "dose"}, "transform": [{"filter": "datum.p == 'F'"}],
   "encoding": {
     "x": {"field": "c", "type": "quantitative", "scale": {"type": "log", "domain": [0.001, 1.4], "nice": false}, "axis": {"values": [0.001, 0.01, 0.1, 1], "format": "~g", "title": "rFVIII (IU mL⁻¹) or BsAb (µM)", "titlePadding": 4}},
     "y": {"field": "v", "type": "quantitative", "scale": {"domain": [0, 60], "nice": false}, "axis": {"values": [0,20,40,60], "title": "Lag time (min)", "titlePadding": 8}}
   },
   "layer": [
    {"mark": {"type": "point", "filled": true, "size": 22, "opacity": 1},
     "encoding": {"color": {"field": "s", "type": "nominal", "scale": {"domain": ["rFVIII","BS-027125","BS-027125 anti-FIXa homodimer","BS-027125 anti-FX homodimer"], "range": ["#58bcd7","#4c0b4f","#e8232a","#b89572"]}, "legend": null}, "shape": {"field": "s", "type": "nominal", "scale": {"domain": ["rFVIII","BS-027125","BS-027125 anti-FIXa homodimer","BS-027125 anti-FX homodimer"], "range": ["circle","circle","triangle-up","diamond"]}, "legend": null}}},
    {"mark": {"type": "line", "strokeWidth": 1.2},
     "encoding": {"stroke": {"field": "s", "type": "nominal", "scale": {"domain": ["rFVIII","BS-027125","BS-027125 anti-FIXa homodimer","BS-027125 anti-FX homodimer"], "range": ["#58bcd7","#4c0b4f","#e8232a","#b89572"]}, "legend": null}}},
    {"transform": [{"filter": "isValid(datum.lo)"}], "mark": {"type": "rule", "strokeWidth": 1},
     "encoding": {"y": {"field": "lo", "type": "quantitative"}, "y2": {"field": "hi"}, "stroke": {"field": "s", "type": "nominal", "legend": null}}},
    {"transform": [{"filter": "isValid(datum.lo)"}], "mark": {"type": "tick", "orient": "horizontal", "size": 5, "thickness": 1},
     "encoding": {"y": {"field": "lo", "type": "quantitative"}, "fill": {"field": "s", "type": "nominal", "scale": {"domain": ["rFVIII","BS-027125","BS-027125 anti-FIXa homodimer","BS-027125 anti-FX homodimer"], "range": ["#58bcd7","#4c0b4f","#e8232a","#b89572"]}, "legend": null}}},
    {"transform": [{"filter": "isValid(datum.lo)"}], "mark": {"type": "tick", "orient": "horizontal", "size": 5, "thickness": 1},
     "encoding": {"y": {"field": "hi", "type": "quantitative"}, "fill": {"field": "s", "type": "nominal", "legend": null}}}
   ]},
  {"data": {"values": [{"t": 0.01, "v": 0}]}, "mark": {"type": "point", "opacity": 0},
   "encoding": {"y": {"field": "v", "type": "quantitative", "axis": null}, "x": {"field": "t", "type": "quantitative", "axis": {"orient": "top", "domain": false, "ticks": false, "labels": false, "title": "Lag time", "titleX": 38, "titleY": -11, "titleAlign": "center", "titleBaseline": "alphabetic"}}}},
  {"data": {"values": [{"t": 0.01, "v": 0}]}, "mark": {"type": "point", "opacity": 0},
   "encoding": {"y": {"field": "v", "type": "quantitative", "axis": null}, "x": {"field": "t", "type": "quantitative", "axis": {"orient": "top", "domain": false, "ticks": false, "labels": false, "title": "F", "titleX": -31, "titleY": -9, "titleAlign": "left", "titleBaseline": "alphabetic", "titleFontSize": 12, "titleFontWeight": "bold"}}}}
 ],
 "resolve": {"axis": {"x": "independent", "y": "independent"}}
},
{
 "width": 84, "height": 78,
 "layer": [
  {"data": {"name": "dose"}, "transform": [{"filter": "datum.p == 'G'"}],
   "encoding": {
     "x": {"field": "c", "type": "quantitative", "scale": {"type": "log", "domain": [0.001, 1.4], "nice": false}, "axis": {"values": [0.001, 0.01, 0.1, 1], "format": "~g", "title": "rFVIII (IU mL⁻¹) or BsAb (µM)", "titlePadding": 4}},
     "y": {"field": "v", "type": "quantitative", "scale": {"domain": [0, 400], "nice": false}, "axis": {"values": [0,100,200,300,400], "title": "Peak thrombin (nM)", "titlePadding": 8}}
   },
   "layer": [
    {"mark": {"type": "point", "filled": true, "size": 22, "opacity": 1},
     "encoding": {
       "color": {"field": "s", "type": "nominal", "scale": {"domain": ["rFVIII","BS-027125","BS-027125 anti-FIXa homodimer","BS-027125 anti-FX homodimer"], "range": ["#58bcd7","#4c0b4f","#e8232a","#b89572"]}, "legend": {"orient": "none", "legendX": 96, "legendY": -5, "title": null, "labelFontSize": 7.5, "symbolSize": 25, "rowPadding": 1, "labelExpr": "indexof(datum.label, ' anti-') > 0 ? ['BS-027125', replace(datum.label, 'BS-027125 ', '')] : datum.label"}},
       "shape": {"field": "s", "type": "nominal", "scale": {"domain": ["rFVIII","BS-027125","BS-027125 anti-FIXa homodimer","BS-027125 anti-FX homodimer"], "range": ["circle","circle","triangle-up","diamond"]}, "legend": {"orient": "none", "legendX": 96, "legendY": -5, "title": null, "labelFontSize": 7.5, "symbolSize": 25, "rowPadding": 1, "labelExpr": "indexof(datum.label, ' anti-') > 0 ? ['BS-027125', replace(datum.label, 'BS-027125 ', '')] : datum.label"}}}},
    {"mark": {"type": "line", "strokeWidth": 1.2},
     "encoding": {"stroke": {"field": "s", "type": "nominal", "scale": {"domain": ["rFVIII","BS-027125","BS-027125 anti-FIXa homodimer","BS-027125 anti-FX homodimer"], "range": ["#58bcd7","#4c0b4f","#e8232a","#b89572"]}, "legend": null}}},
    {"transform": [{"filter": "isValid(datum.lo)"}], "mark": {"type": "rule", "strokeWidth": 1},
     "encoding": {"y": {"field": "lo", "type": "quantitative"}, "y2": {"field": "hi"}, "stroke": {"field": "s", "type": "nominal", "legend": null}}},
    {"transform": [{"filter": "isValid(datum.lo)"}], "mark": {"type": "tick", "orient": "horizontal", "size": 5, "thickness": 1},
     "encoding": {"y": {"field": "lo", "type": "quantitative"}, "fill": {"field": "s", "type": "nominal", "scale": {"domain": ["rFVIII","BS-027125","BS-027125 anti-FIXa homodimer","BS-027125 anti-FX homodimer"], "range": ["#58bcd7","#4c0b4f","#e8232a","#b89572"]}, "legend": null}}},
    {"transform": [{"filter": "isValid(datum.lo)"}], "mark": {"type": "tick", "orient": "horizontal", "size": 5, "thickness": 1},
     "encoding": {"y": {"field": "hi", "type": "quantitative"}, "fill": {"field": "s", "type": "nominal", "legend": null}}}
   ]},
  {"data": {"values": [{"t": 0.01, "v": 0}]}, "mark": {"type": "point", "opacity": 0},
   "encoding": {"y": {"field": "v", "type": "quantitative", "axis": null}, "x": {"field": "t", "type": "quantitative", "axis": {"orient": "top", "domain": false, "ticks": false, "labels": false, "title": "Peak", "titleX": 43, "titleY": -11, "titleAlign": "center", "titleBaseline": "alphabetic"}}}},
  {"data": {"values": [{"t": 0.01, "v": 0}]}, "mark": {"type": "point", "opacity": 0},
   "encoding": {"y": {"field": "v", "type": "quantitative", "axis": null}, "x": {"field": "t", "type": "quantitative", "axis": {"orient": "top", "domain": false, "ticks": false, "labels": false, "title": "G", "titleX": -34, "titleY": -9, "titleAlign": "left", "titleBaseline": "alphabetic", "titleFontSize": 12, "titleFontWeight": "bold"}}}}
 ],
 "resolve": {"axis": {"x": "independent", "y": "independent"}}
}
],
"spacing": -2,
"resolve": {"scale": {"color": "independent", "shape": "independent", "stroke": "independent", "fill": "independent", "x": "independent", "y": "independent"}, "legend": {"color": "independent", "shape": "independent"}}
}
],
"spacing": 25,
"resolve": {"scale": {"color": "independent", "shape": "independent", "stroke": "independent", "fill": "independent", "x": "independent", "y": "independent"}, "legend": {"color": "independent", "shape": "independent"}}
},
{
"hconcat": [
{
 "width": 1, "height": 100,
 "view": {"stroke": "transparent"},
 "data": {"values": []},
 "mark": {"type": "point", "opacity": 0},
 "encoding": {}
},
{
"hconcat": [
{
 "width": 150, "height": 100,
 "layer": [
  {"data": {"name": "barsH"},
   "encoding": {
     "x": {"field": "m", "type": "nominal", "sort": ["Peak","Lag","Rate","ETP"], "scale": {"paddingInner": 0.28, "paddingOuter": 0.1}, "axis": {"title": null, "ticks": false, "labelAngle": 0, "labelPadding": 5, "labelFontSize": 8.5}},
     "xOffset": {"field": "g", "type": "nominal", "sort": ["rFVIII","SI-Emi","BS-027125"], "scale": {"paddingInner": 0.12}},
     "y": {"field": "v", "type": "quantitative", "scale": {"domain": [0, 100, 200, 400], "range": [100, 35, 28, 0], "nice": false, "zero": false}, "axis": {"values": [0,50,100,200,300,400], "title": "FVIII equivalent (%)", "titlePadding": 8}}
   },
   "layer": [
    {"mark": {"type": "bar"},
     "encoding": {"color": {"field": "g", "type": "nominal", "scale": {"domain": ["rFVIII","SI-Emi","BS-027125"], "range": ["#5bc0d9","#f7941d","#4b0b4b"]}, "legend": {"orient": "none", "legendX": 154, "legendY": 3, "title": null, "symbolType": "M-1,-0.45H1V0.45H-1Z", "symbolSize": 144, "rowPadding": 5, "labelFontSize": 8}}}},
    {"transform": [{"filter": "isValid(datum.hi)"}], "mark": {"type": "rule", "strokeWidth": 1},
     "encoding": {"y2": {"field": "hi"}, "stroke": {"field": "g", "type": "nominal", "scale": {"domain": ["rFVIII","SI-Emi","BS-027125"], "range": ["#5bc0d9","#f7941d","#4b0b4b"]}, "legend": null}}},
    {"transform": [{"filter": "isValid(datum.hi)"}], "mark": {"type": "tick", "orient": "horizontal", "size": 5, "thickness": 1},
     "encoding": {"y": {"field": "hi", "type": "quantitative"}, "fill": {"field": "g", "type": "nominal", "scale": {"domain": ["rFVIII","SI-Emi","BS-027125"], "range": ["#5bc0d9","#f7941d","#4b0b4b"]}, "legend": null}}}
   ]},
  {"data": {"values": [{"m": "Peak", "v": 0}]}, "mark": {"type": "point", "opacity": 0},
   "encoding": {"y": {"field": "v", "type": "quantitative", "axis": null}, "x": {"field": "m", "type": "nominal", "sort": ["Peak","Lag","Rate","ETP"], "axis": {"orient": "top", "domain": false, "ticks": false, "labels": false, "title": "FXIa-Triggered", "titleX": 53, "titleY": -14, "titleAlign": "center", "titleBaseline": "alphabetic"}}}},
  {"data": {"values": [{"m": "Peak", "v": 0}]}, "mark": {"type": "point", "opacity": 0},
   "encoding": {"y": {"field": "v", "type": "quantitative", "axis": null}, "x": {"field": "m", "type": "nominal", "sort": ["Peak","Lag","Rate","ETP"], "axis": {"orient": "top", "domain": false, "ticks": false, "labels": false, "title": "H", "titleX": -38, "titleY": -2, "titleAlign": "left", "titleBaseline": "alphabetic", "titleFontSize": 12, "titleFontWeight": "bold"}}}}
 ],
 "resolve": {"axis": {"x": "independent", "y": "independent"}}
},
{
 "width": 153, "height": 100,
 "layer": [
  {"data": {"name": "barsI"},
   "encoding": {
     "x": {"field": "m", "type": "nominal", "sort": ["Peak","Lag","Rate","ETP"], "scale": {"paddingInner": 0.28, "paddingOuter": 0.1}, "axis": {"title": null, "ticks": false, "labelAngle": 0, "labelPadding": 5, "labelFontSize": 8.5}},
     "xOffset": {"field": "g", "type": "nominal", "sort": ["rFVIII","SI-Emi","BS-027125"], "scale": {"paddingInner": 0.12}},
     "y": {"field": "v", "type": "quantitative", "scale": {"domain": [0, 150], "nice": false}, "axis": {"values": [0,50,100,150], "title": "FVIII equivalent (%)", "titlePadding": 8}}
   },
   "layer": [
    {"mark": {"type": "bar"},
     "encoding": {"color": {"field": "g", "type": "nominal", "scale": {"domain": ["rFVIII","SI-Emi","BS-027125"], "range": ["#5bc0d9","#f7941d","#4b0b4b"]}, "legend": {"orient": "none", "legendX": 168, "legendY": 3, "title": null, "symbolType": "M-1,-0.45H1V0.45H-1Z", "symbolSize": 144, "rowPadding": 5, "labelFontSize": 8}}}},
    {"transform": [{"filter": "isValid(datum.hi)"}], "mark": {"type": "rule", "strokeWidth": 1},
     "encoding": {"y2": {"field": "hi"}, "stroke": {"field": "g", "type": "nominal", "scale": {"domain": ["rFVIII","SI-Emi","BS-027125"], "range": ["#5bc0d9","#f7941d","#4b0b4b"]}, "legend": null}}},
    {"transform": [{"filter": "isValid(datum.hi)"}], "mark": {"type": "tick", "orient": "horizontal", "size": 5, "thickness": 1},
     "encoding": {"y": {"field": "hi", "type": "quantitative"}, "fill": {"field": "g", "type": "nominal", "scale": {"domain": ["rFVIII","SI-Emi","BS-027125"], "range": ["#5bc0d9","#f7941d","#4b0b4b"]}, "legend": null}}}
   ]},
  {"data": {"values": [{"m": "Peak", "v": 0}]}, "mark": {"type": "point", "opacity": 0},
   "encoding": {"y": {"field": "v", "type": "quantitative", "axis": null}, "x": {"field": "m", "type": "nominal", "sort": ["Peak","Lag","Rate","ETP"], "axis": {"orient": "top", "domain": false, "ticks": false, "labels": false, "title": "TF-Triggered", "titleX": 72, "titleY": -14, "titleAlign": "center", "titleBaseline": "alphabetic"}}}},
  {"data": {"values": [{"m": "Peak", "v": 0}]}, "mark": {"type": "point", "opacity": 0},
   "encoding": {"y": {"field": "v", "type": "quantitative", "axis": null}, "x": {"field": "m", "type": "nominal", "sort": ["Peak","Lag","Rate","ETP"], "axis": {"orient": "top", "domain": false, "ticks": false, "labels": false, "title": "I", "titleX": -32, "titleY": -2, "titleAlign": "left", "titleBaseline": "alphabetic", "titleFontSize": 12, "titleFontWeight": "bold"}}}}
 ],
 "resolve": {"axis": {"x": "independent", "y": "independent"}}
}
],
"spacing": 13,
"resolve": {"scale": {"color": "independent", "shape": "independent", "stroke": "independent", "fill": "independent", "x": "independent", "y": "independent"}, "legend": {"color": "independent", "shape": "independent"}}
}
],
"spacing": -8,
"resolve": {"scale": {"color": "independent", "shape": "independent", "stroke": "independent", "fill": "independent", "x": "independent", "y": "independent"}, "legend": {"color": "independent", "shape": "independent"}}
}
],
"spacing": 9,
"resolve": {"scale": {"color": "independent", "shape": "independent", "stroke": "independent", "fill": "independent", "x": "independent", "y": "independent"}, "legend": {"color": "independent", "shape": "independent"}}
}
],
"spacing": 16,
"resolve": {"scale": {"color": "independent", "shape": "independent", "stroke": "independent", "fill": "independent", "x": "independent", "y": "independent"}, "legend": {"color": "independent", "shape": "independent"}}
}
